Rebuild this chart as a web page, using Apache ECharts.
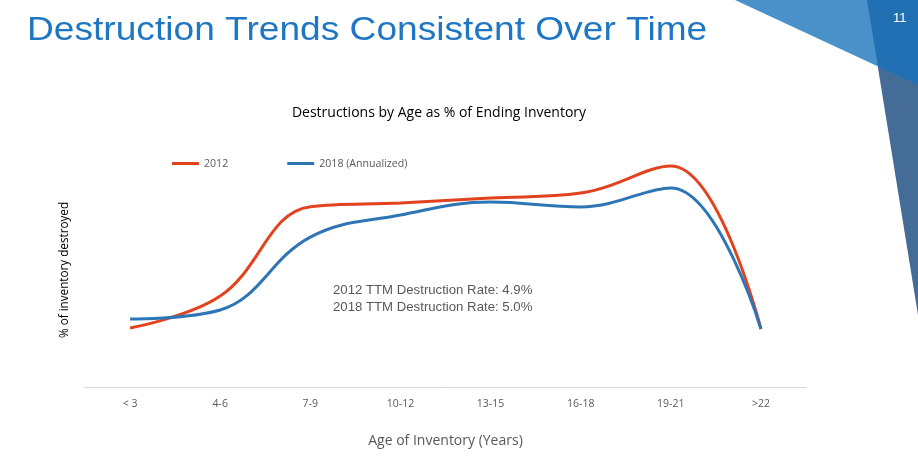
<!DOCTYPE html>
<html>
<head>
<meta charset="utf-8">
<script src="https://cdn.jsdelivr.net/npm/echarts@6/dist/echarts.min.js"></script>
<style>
  html, body { margin: 0; padding: 0; background: #fff; }
  #main { width: 918px; height: 461px; }
</style>
</head>
<body>
<div id="main"></div>
<script>
// age buckets on the x axis
const ageBuckets = ['< 3', '4-6', '7-9', '10-12', '13-15', '16-18', '19-21', '>22'];
// destructions as % of ending inventory (axis is unlabelled)
const rate2012 = [2.39, 3.68, 7.3, 7.45, 7.65, 7.85, 8.95, 2.35];
const rate2018 = [2.75, 3.12, 6.07, 6.96, 7.49, 7.29, 8.06, 2.35];
const seriesNames = ['2012', '2018 (Annualized)'];
const noteLines = ['2012 TTM Destruction Rate: 4.9%', '2018 TTM Destruction Rate: 5.0%'];

const RED = '#E2431E';
const BLUE = '#2E75B6';
const GREY = '#595959';

let myChart = echarts.init(document.getElementById('main'));

myChart.setOption({
    animation: false,
    backgroundColor: '#fff',
    title: {
        text: 'Destructions by Age as % of Ending Inventory',
        left: 434,
        textAlign: 'center',
        top: 101,
        textStyle: { fontFamily: 'Open Sans', fontSize: 14, fontWeight: 'normal', color: '#000' }
    },
    legend: {
        left: 172,
        top: 158,
        padding: 0,
        itemWidth: 27,
        itemHeight: 3,
        itemGap: 59,
        icon: 'rect',
        data: seriesNames,
        textStyle: { fontFamily: 'Open Sans', fontSize: 10.6, color: GREY }
    },
    grid: { left: 85, right: 112, top: 140, bottom: 74 },
    xAxis: {
        type: 'category',
        data: ageBuckets,
        name: 'Age of Inventory (Years)',
        nameLocation: 'middle',
        nameGap: 47,
        nameTextStyle: { fontFamily: 'Open Sans', fontSize: 14, color: GREY },
        axisLine: { lineStyle: { color: '#D9D9D9', width: 1 } },
        axisTick: { show: false },
        axisLabel: { margin: 12, fontFamily: 'Open Sans', fontSize: 10.5, color: GREY }
    },
    yAxis: {
        type: 'value',
        min: 0,
        max: 10,
        axisLine: { show: false },
        axisTick: { show: false },
        axisLabel: { show: false },
        splitLine: { show: false }
    },
    series: [
        {
            name: seriesNames[0],
            type: 'line',
            data: rate2012,
            smooth: 0.4,
            showSymbol: false,
            itemStyle: { color: RED },
            lineStyle: { color: RED, width: 3 }
        },
        {
            name: seriesNames[1],
            type: 'line',
            data: rate2018,
            smooth: 0.4,
            showSymbol: false,
            itemStyle: { color: BLUE },
            lineStyle: { color: BLUE, width: 3 }
        }
    ],
    graphic: [
        // slide decoration, top right
        { type: 'polygon', shape: { points: [[867, 0], [918, 0], [918, 315]] }, style: { fill: '#456C97' } },
        { type: 'polygon', shape: { points: [[735, 0], [918, 0], [918, 85]] }, style: { fill: '#4A91C9' } },
        { type: 'polygon', shape: { points: [[867, 0], [918, 0], [918, 85], [878, 66.5]] }, style: { fill: '#2070B3' } },
        { type: 'text', left: 893, top: 12, style: { text: '11', fill: '#fff', font: '13px "Liberation Sans"' } },
        // slide heading (source text is a little stretched sideways)
        { type: 'text', x: 27, y: 14, scaleX: 1.092, style: { text: 'Destruction Trends Consistent Over Time', fill: '#1F76C2', font: '34px "Liberation Sans"', verticalAlign: 'top' } },
        // y axis title
        { type: 'text', x: 65, y: 270, rotation: Math.PI / 2, style: { text: '% of inventory destroyed', fill: '#000', font: '11.7px "Open Sans"', align: 'center', verticalAlign: 'middle' } },
        // TTM note
        { type: 'text', left: 333, top: 282, style: { text: noteLines.join('\n'), fill: GREY, font: '13.2px "Liberation Sans"', lineHeight: 17 } }
    ]
});

window.onresize = function () {
    myChart.resize();
};
</script>
</body>
</html>
